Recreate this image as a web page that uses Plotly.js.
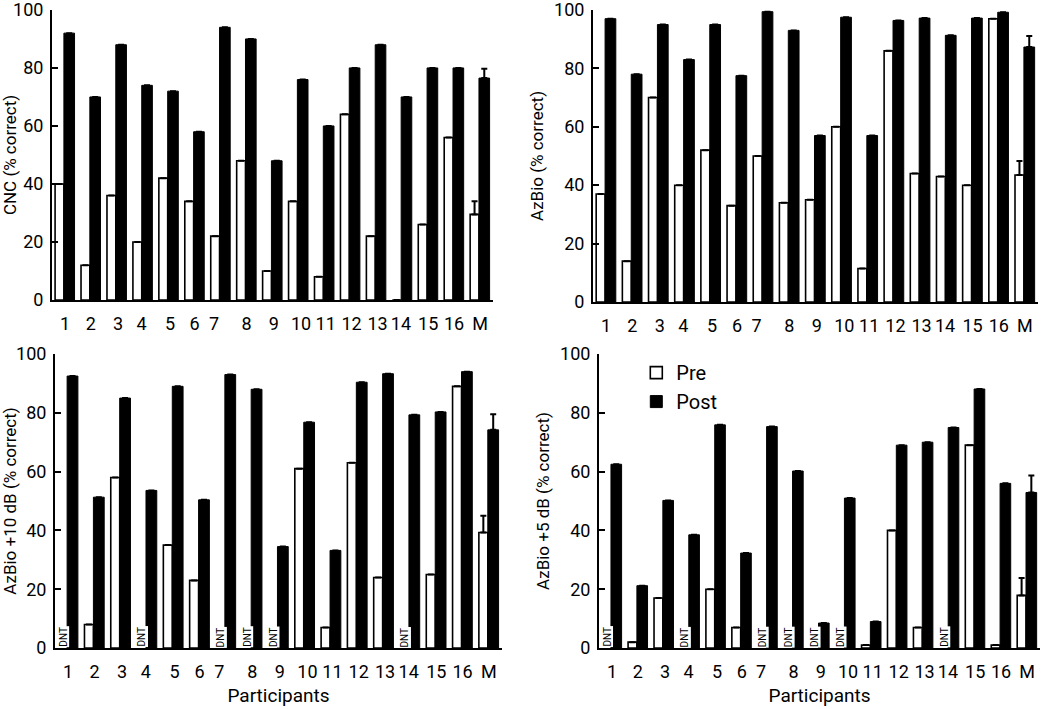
<!DOCTYPE html>
<html>
<head>
<meta charset="utf-8">
<script src="https://cdn.plot.ly/plotly-3.0.1.min.js"></script>
<style>
html,body{margin:0;padding:0;background:#fff;}
#chart{width:1050px;height:709px;}
</style>
</head>
<body>
<div id="chart"></div>
<script>
// ---- data ----
const participants = ['1','2','3','4','5','6','7','8','9','10','11','12','13','14','15','16','M'];

// CNC (% correct)
const cncPre  = [40, 12, 36, 20, 42, 34, 22, 48, 10, 34, 8, 64, 22, 0, 26, 56, 29.5];
const cncPost = [92, 70, 88, 74, 72, 58, 94, 90, 48, 76, 60, 80, 88, 70, 80, 80, 76.5];
const cncErr  = [4.5, 3.2];          // SE on the mean (Pre, Post)

// AzBio (% correct)
const azPre  = [37, 14, 70, 40, 52, 33, 50, 34, 35, 60, 11.5, 86, 44, 43, 40, 97, 43.5];
const azPost = [97, 78, 95, 83, 95, 77.5, 99.4, 93, 57, 97.5, 57, 96.4, 97.2, 91.3, 97.2, 99.2, 87.3];
const azErr  = [4.8, 3.8];

// AzBio +10 dB (% correct); null = DNT (did not test)
const az10Pre  = [null, 8, 58, null, 35, 23, null, null, null, 61, 7, 63, 24, null, 25, 89, 39.3];
const az10Post = [92.5, 51.3, 85, 53.6, 89, 50.4, 93, 88, 34.5, 76.8, 33.2, 90.4, 93.3, 79.3, 80.3, 94, 74.2];
const az10Err  = [5.7, 5.3];

// AzBio +5 dB (% correct); null = DNT
const az5Pre  = [null, 2, 17, null, 20, 7, null, null, null, null, 1, 40, 7, null, 69, 1, 17.9];
const az5Post = [62.5, 21.2, 50.2, 38.5, 75.9, 32.3, 75.3, 60.2, 8.5, 51, 9, 69, 70, 75, 88.1, 56, 52.9];
const az5Err  = [5.9, 5.8];

const yTitles = ['CNC (% correct)', 'AzBio (% correct)', 'AzBio +10 dB (% correct)', 'AzBio +5 dB (% correct)'];
const seriesNames = ['Pre', 'Post'];

// ---- layout helpers (positions/styles) ----
const tickShift = [0, 0, 0.05, -0.05, 0.05, 0, -0.25, 0, 0.05, 0.1, 0.05, 0.05, 0.05, -0.05, 0, 0, 0];
const barGeom = {pre: {offset: -0.38, width: 0.34}, post: {offset: -0.04, width: 0.41}};
const FONT = 'Roboto, "Liberation Sans", sans-serif';
const xIdx = participants.map((_, i) => i);

const panels = [
  {pre: cncPre,  post: cncPost,  err: cncErr,  xd: [0.0495, 0.4695], yd: [0.5769, 0.986]},
  {pre: azPre,   post: azPost,   err: azErr,   xd: [0.5648, 0.9886], yd: [0.5740, 0.986]},
  {pre: az10Pre, post: az10Post, err: az10Err, xd: [0.0524, 0.4781], yd: [0.0860, 0.5007]},
  {pre: az5Pre,  post: az5Post,  err: az5Err,  xd: [0.5705, 0.9905], yd: [0.0860, 0.5007]}
];

const traces = [];
const annotations = [];
const layout = {
  width: 1050, height: 709,
  margin: {l: 0, r: 0, t: 0, b: 0},
  paper_bgcolor: '#fff', plot_bgcolor: '#fff',
  font: {family: FONT, color: '#000', size: 18},
  barmode: 'overlay',
  showlegend: true,
  legend: {x: 0.606, y: 0.502, xanchor: 'left', yanchor: 'top', bgcolor: 'rgba(0,0,0,0)',
           font: {family: FONT, size: 20, color: '#000'}, tracegroupgap: 0, itemwidth: 30}
};

panels.forEach((p, k) => {
  const n = k + 1;
  const xa = n === 1 ? 'x' : 'x' + n;
  const ya = n === 1 ? 'y' : 'y' + n;
  const errPre = participants.map(c => c === 'M' ? p.err[0] : null);
  const errPost = participants.map(c => c === 'M' ? p.err[1] : null);
  const errMinus = participants.map(() => 0);
  traces.push({
    type: 'bar', name: seriesNames[0], x: xIdx, y: p.pre, xaxis: xa, yaxis: ya,
    offset: barGeom.pre.offset, width: barGeom.pre.width,
    marker: {color: '#fff', line: {color: '#000', width: 1.6}},
    error_y: {type: 'data', array: errPre, arrayminus: errMinus, symmetric: false, color: '#000', thickness: 2, width: 3},
    showlegend: n === 4, legendgroup: 'pre', hoverinfo: 'skip'
  });
  traces.push({
    type: 'bar', name: seriesNames[1], x: xIdx, y: p.post, xaxis: xa, yaxis: ya,
    offset: barGeom.post.offset, width: barGeom.post.width,
    marker: {color: '#000', line: {color: '#000', width: 1}},
    error_y: {type: 'data', array: errPost, arrayminus: errMinus, symmetric: false, color: '#000', thickness: 2, width: 3},
    showlegend: n === 4, legendgroup: 'post', hoverinfo: 'skip'
  });
  const xKey = n === 1 ? 'xaxis' : 'xaxis' + n;
  const yKey = n === 1 ? 'yaxis' : 'yaxis' + n;
  layout[xKey] = {
    domain: p.xd, anchor: ya, range: [-0.5, 16.5], fixedrange: true,
    showline: true, linecolor: '#000', linewidth: 2, showgrid: false, zeroline: false,
    ticks: '', tickmode: 'array', tickvals: xIdx.map((v, i) => v + tickShift[i]), ticktext: participants,
    tickangle: 0, tickfont: {family: FONT, size: 18, color: '#000'}, ticklabelstandoff: 6,
    title: n >= 3 ? {text: 'Participants', font: {family: FONT, size: 19, color: '#000'}, standoff: 8} : {text: ''}
  };
  layout[yKey] = {
    domain: p.yd, anchor: xa, range: [0, 100], fixedrange: true,
    showline: true, linecolor: '#000', linewidth: 2, showgrid: false, zeroline: false,
    ticks: 'inside', ticklen: 6, tickwidth: 2, tickcolor: '#000',
    tickmode: 'array', tickvals: [0, 20, 40, 60, 80, 100], ticklabeloverflow: 'allow',
    tickfont: {family: FONT, size: 18, color: '#000'}, ticklabelstandoff: 3,
    title: {text: yTitles[k], font: {family: FONT, size: 17, color: '#000'}, standoff: 6}
  };
  p.pre.forEach((v, i) => {
    if (v === null) {
      annotations.push({
        xref: xa, yref: ya, x: xIdx[i] + barGeom.pre.offset + barGeom.pre.width / 2, y: 0,
        yanchor: 'bottom', xanchor: 'center',
        text: 'DNT', textangle: -90, showarrow: false, bgcolor: '#fff', borderpad: 0,
        font: {family: FONT, size: 10, color: '#000'}
      });
    }
  });
});
layout.annotations = annotations;

Plotly.newPlot('chart', traces, layout, {staticPlot: true, displayModeBar: false});
</script>
</body>
</html>
